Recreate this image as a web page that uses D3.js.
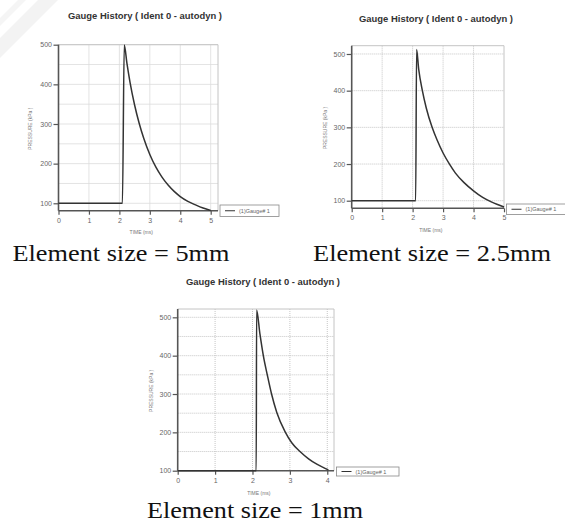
<!DOCTYPE html>
<html>
<head>
<meta charset="utf-8">
<script src="https://cdn.jsdelivr.net/npm/d3@7"></script>
<style>
  body { margin: 0; background: #fff; }
  svg { display: block; }
</style>
</head>
<body>
<div id="chart"></div>
<script>

// gauge history readings, [time (ms), pressure (kPa)]
var gauge5mm = [
  [0, 100], [2.10, 100], [2.16, 499], [2.25, 452], [2.35, 405], [2.5, 348],
  [2.65, 302], [2.8, 264], [3.0, 223], [3.2, 191], [3.4, 166], [3.6, 146],
  [3.8, 130], [4.0, 117], [4.25, 105], [4.5, 96], [4.75, 88], [5.0, 82]
];
var gauge25mm = [
  [0, 100], [2.10, 100], [2.13, 512], [2.2, 458], [2.32, 400], [2.45, 352],
  [2.64, 300], [2.8, 266], [3.0, 230], [3.2, 201], [3.4, 176], [3.68, 150],
  [4.0, 127], [4.3, 109], [4.6, 96], [5.0, 83]
];
var gauge1mm = [
  [0, 100], [2.10, 100], [2.11, 519], [2.2, 456], [2.29, 400], [2.4, 348],
  [2.51, 300], [2.65, 252], [2.87, 202], [3.05, 173], [3.27, 150], [3.5, 131],
  [3.72, 117], [3.9, 108], [4.03, 102]
];

var chartTitle = "Gauge History ( Ident 0 - autodyn )";
var legendLabel = "(1)Gauge# 1";
var xLabel = "TIME (ms)";
var yLabel = "PRESSURE (kPa )";

var xTicks5 = [0, 1, 2, 3, 4, 5];
var xTicks4 = [0, 1, 2, 3, 4];
var yTicks = [100, 200, 300, 400, 500];
var yGrid50 = [100, 150, 200, 250, 300, 350, 400, 450, 500];

var captions = ["Element size = 5mm", "Element size = 2.5mm", "Element size = 1mm"];

var W = 565, H = 523;
var sans = "'Liberation Sans', Arial, sans-serif";
var serif = "'Liberation Serif', 'Times New Roman', serif";

var svg = d3.select("#chart").append("svg")
    .attr("width", W)
    .attr("height", H);

// faint watermark corner
svg.append("path")
    .attr("d", "M0,38 L38,0 L58,0 L0,58 Z")
    .attr("fill", "#f3f3f3");
svg.append("path")
    .attr("d", "M0,18 L18,0 L26,0 L0,26 Z")
    .attr("fill", "#f5f5f5");

var panels = [
  { data: gauge5mm, xDomain: [0, 5.24], yDomain: [81.3, 500], xTicks: xTicks5, yGrid: yGrid50,
    dotted: false, left: 58.5, right: 218, top: 44.7, bottom: 210.7,
    titleX: 145, titleY: 19, xLabY: 234, yLabX: 32, xTickY: 226,
    legend: [220, 205, 59, 11.5], caption: captions[0], capX: 121, capY: 261, capW: 217 },
  { data: gauge25mm, xDomain: [0, 5], yDomain: [79.3, 522.6], xTicks: xTicks5, yGrid: yTicks,
    dotted: true, left: 351.7, right: 504, top: 45.7, bottom: 208.3,
    titleX: 436, titleY: 22, xLabY: 231.5, yLabX: 327, xTickY: 223,
    legend: [506.5, 204, 62, 10.5], caption: captions[1], capX: 432, capY: 261, capW: 238 },
  { data: gauge1mm, xDomain: [0, 4.18], yDomain: [100, 521.7], xTicks: xTicks4, yGrid: yGrid50,
    dotted: true, left: 177.7, right: 334, top: 309, bottom: 470.7,
    titleX: 263, titleY: 285, xLabY: 494.5, yLabX: 152.5, xTickY: 485,
    legend: [336.5, 467, 62.5, 9], caption: captions[2], capX: 255, capY: 518, capW: 216 }
];

panels.forEach(function(p) {
  var g = svg.append("g");

  var x = d3.scaleLinear().domain(p.xDomain).range([p.left, p.right]);
  var y = d3.scaleLinear().domain(p.yDomain).range([p.bottom, p.top]);

  var gridColor = p.dotted ? "#b8b8b8" : "#dcdcdc";
  var dash = p.dotted ? "1,1" : null;

  // grid
  g.selectAll(".hgrid").data(p.yGrid).enter().append("line")
      .attr("x1", p.left).attr("x2", p.right)
      .attr("y1", function(d) { return y(d); })
      .attr("y2", function(d) { return y(d); })
      .attr("stroke", gridColor).attr("stroke-width", 0.8)
      .attr("stroke-dasharray", dash);
  g.selectAll(".vgrid").data(p.xTicks.filter(function(d) { return d > 0 && x(d) < p.right - 1; }))
      .enter().append("line")
      .attr("x1", function(d) { return x(d); })
      .attr("x2", function(d) { return x(d); })
      .attr("y1", p.top).attr("y2", p.bottom)
      .attr("stroke", gridColor).attr("stroke-width", 0.8)
      .attr("stroke-dasharray", dash);

  // frame top / right
  g.append("path")
      .attr("d", "M" + p.left + "," + p.top + "H" + p.right + "V" + p.bottom)
      .attr("fill", "none").attr("stroke", "#c4c4c4").attr("stroke-width", 1);

  // axes
  var yAxis = d3.axisLeft(y).tickValues(yTicks).tickSize(5).tickPadding(1.5)
      .tickFormat(d3.format("d"));
  var xAxis = d3.axisBottom(x).tickValues(p.xTicks).tickSize(4).tickPadding(3)
      .tickFormat(d3.format("d"));

  var ya = g.append("g").attr("transform", "translate(" + p.left + ",0)").call(yAxis);
  var xa = g.append("g").attr("transform", "translate(0," + p.bottom + ")").call(xAxis);

  [ya, xa].forEach(function(a) {
    a.select(".domain").attr("stroke", "#555").attr("stroke-width", 1.6);
    a.selectAll(".tick line").attr("stroke", "#555").attr("stroke-width", 1.2);
    a.selectAll(".tick text")
        .attr("fill", "#666")
        .style("font-family", sans)
        .style("font-size", "7px");
  });
  ya.select(".domain").attr("d", "M0," + p.top + "V" + p.bottom);
  xa.select(".domain").attr("d", "M" + p.left + ",0H" + p.right);

  // curve
  var line = d3.line()
      .x(function(d) { return x(d[0]); })
      .y(function(d) { return y(d[1]); })
      .curve(d3.curveMonotoneX);

  g.append("path")
      .datum(p.data)
      .attr("d", line)
      .attr("fill", "none")
      .attr("stroke", "#333")
      .attr("stroke-width", 1.5);

  // title
  g.append("text")
      .attr("x", p.titleX).attr("y", p.titleY)
      .attr("text-anchor", "middle")
      .attr("textLength", 154).attr("lengthAdjust", "spacingAndGlyphs")
      .style("font-family", sans)
      .style("font-weight", "bold")
      .style("font-size", "8.5px")
      .attr("fill", "#333")
      .text(chartTitle);

  // axis labels
  g.append("text")
      .attr("x", (p.left + p.right) / 2 + 3).attr("y", p.xLabY)
      .attr("text-anchor", "middle")
      .style("font-family", sans)
      .style("font-size", "5px")
      .attr("fill", "#777")
      .text(xLabel);

  g.append("text")
      .attr("transform", "translate(" + p.yLabX + "," + ((p.top + p.bottom) / 2 + 1) + ") rotate(-90)")
      .attr("text-anchor", "middle")
      .style("font-family", sans)
      .style("font-size", "5px")
      .attr("fill", "#777")
      .text(yLabel);

  // legend
  var lg = g.append("g").attr("transform", "translate(" + p.legend[0] + "," + p.legend[1] + ")");
  lg.append("rect")
      .attr("width", p.legend[2]).attr("height", p.legend[3])
      .attr("fill", "#fff").attr("stroke", "#888").attr("stroke-width", 0.8);
  lg.append("line")
      .attr("x1", 5).attr("x2", 15)
      .attr("y1", p.legend[3] / 2).attr("y2", p.legend[3] / 2)
      .attr("stroke", "#333").attr("stroke-width", 1);
  lg.append("text")
      .attr("x", 19).attr("y", p.legend[3] / 2 + 2)
      .style("font-family", sans)
      .style("font-size", "5.5px")
      .attr("fill", "#666")
      .text(legendLabel);

  // caption below each chart
  g.append("text")
      .attr("x", p.capX).attr("y", p.capY)
      .attr("text-anchor", "middle")
      .attr("textLength", p.capW).attr("lengthAdjust", "spacingAndGlyphs")
      .style("font-family", serif)
      .style("font-size", "24px")
      .attr("fill", "#111")
      .text(p.caption);
});

</script>
</body>
</html>
